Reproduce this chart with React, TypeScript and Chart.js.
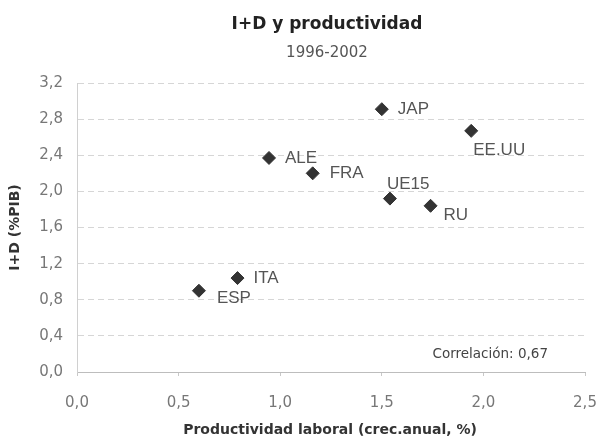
import { useEffect, useRef } from 'react';
import { Chart, registerables } from 'chart.js';

Chart.register(...registerables);

// Country codes with labour productivity growth (x) and R&D spending (y)
const countries = ['JAP', 'EE.UU', 'ALE', 'FRA', 'UE15', 'RU', 'ITA', 'ESP'];
const productivity = [1.5, 1.94, 0.945, 1.16, 1.54, 1.74, 0.79, 0.6];
const rdSpending = [2.91, 2.67, 2.37, 2.2, 1.92, 1.84, 1.04, 0.9];

const xTicks = [0, 0.5, 1.0, 1.5, 2.0, 2.5];
const yTicks = [0, 0.4, 0.8, 1.2, 1.6, 2.0, 2.4, 2.8, 3.2];

const chartTitle = 'I+D y productividad';
const chartSubtitle = '1996-2002';
const xTitle = 'Productividad laboral (crec.anual, %)';
const yTitle = 'I+D (%PIB)';
const correlationNote = 'Correlación: 0,67';

// Where each country's label sits relative to its marker (dx, dy, px)
const labelOffsets: Record<string, [number, number]> = {
  JAP: [16, 0],
  'EE.UU': [2, 19],
  ALE: [16, 0],
  FRA: [17, 0],
  UE15: [-3, -14],
  RU: [13, 9],
  ITA: [16, 0],
  ESP: [18, 8],
};

const fmt = (v: number) => v.toFixed(1).replace('.', ',');

const textPlugin = {
  id: 'textPlugin',
  afterDatasetsDraw(chart: any) {
    const { ctx } = chart;
    const meta = chart.getDatasetMeta(0);
    ctx.save();
    // point labels
    ctx.font = '17px "Liberation Sans", Arial, sans-serif';
    ctx.fillStyle = '#555';
    ctx.textAlign = 'left';
    ctx.textBaseline = 'middle';
    meta.data.forEach((pt: any, i: number) => {
      const name = countries[i];
      const [dx, dy] = labelOffsets[name] || [14, 0];
      ctx.fillText(name, pt.x + dx, pt.y + dy);
    });
    ctx.restore();
  },
  afterDraw(chart: any) {
    const { ctx, chartArea } = chart;
    const cx = (chartArea.left + chartArea.right) / 2;
    ctx.save();
    ctx.textAlign = 'center';
    ctx.textBaseline = 'middle';
    ctx.fillStyle = '#222';
    ctx.font = 'bold 17px "DejaVu Sans", Verdana, sans-serif';
    ctx.fillText(chartTitle, cx - 4, 25);
    ctx.fillStyle = '#555';
    ctx.font = '15px "DejaVu Sans", Verdana, sans-serif';
    ctx.fillText(chartSubtitle, cx - 4, 53);

    ctx.fillStyle = '#333';
    ctx.font = 'bold 14px "DejaVu Sans", Verdana, sans-serif';
    ctx.fillText(xTitle, cx - 1, 430);

    ctx.save();
    ctx.translate(15, (chartArea.top + chartArea.bottom) / 2);
    ctx.rotate(-Math.PI / 2);
    ctx.font = 'bold 14px "DejaVu Sans", Verdana, sans-serif';
    ctx.fillText(yTitle, 0, 0);
    ctx.restore();

    ctx.fillStyle = '#444';
    ctx.font = '13.5px "DejaVu Sans", Verdana, sans-serif';
    ctx.textAlign = 'right';
    ctx.fillText(correlationNote, chartArea.right - 37, 354);
    ctx.restore();
  },
};

export default function App() {
  const canvasRef = useRef<HTMLCanvasElement | null>(null);

  useEffect(() => {
    if (!canvasRef.current) return;
    const chart = new Chart(canvasRef.current, {
      type: 'scatter',
      data: {
        datasets: [
          {
            label: 'I+D',
            data: countries.map((_, i) => ({ x: productivity[i], y: rdSpending[i] })),
            backgroundColor: '#333',
            borderColor: '#333',
            pointStyle: 'rectRot',
            pointRadius: 6.5,
            pointHoverRadius: 6.5,
          },
        ],
      },
      options: {
        animation: false,
        responsive: true,
        maintainAspectRatio: false,
        layout: { padding: { top: 83, right: 20, left: 0, bottom: 0 } },
        plugins: {
          legend: { display: false },
          tooltip: { enabled: false },
          title: { display: false },
        },
        scales: {
          x: {
            type: 'linear',
            min: xTicks[0],
            max: xTicks[xTicks.length - 1],
            afterBuildTicks: (s: any) => {
              s.ticks = xTicks.map((v) => ({ value: v }));
            },
            afterFit: (s: any) => {
              s.height = 70;
              s.paddingLeft = 0;
              s.paddingRight = 0;
            },
            grid: {
              drawOnChartArea: false,
              drawTicks: true,
              tickLength: 4,
              color: '#c8c8c8',
            },
            border: { display: true, color: '#bdbdbd', width: 1 },
            ticks: {
              padding: 18,
              color: '#777',
              font: { family: '"DejaVu Sans", Verdana, sans-serif', size: 15 },
              callback: (v: any) => fmt(Number(v)),
            },
          },
          y: {
            type: 'linear',
            min: yTicks[0],
            max: yTicks[yTicks.length - 1],
            afterBuildTicks: (s: any) => {
              s.ticks = yTicks.map((v) => ({ value: v }));
            },
            afterFit: (s: any) => {
              s.width = 77;
              s.paddingTop = 0;
              s.paddingBottom = 0;
            },
            grid: {
              drawTicks: false,
              color: '#d6d6d6',
              lineWidth: 1,
            },
            border: { display: true, color: '#d0d0d0', width: 1, dash: [6, 4] },
            ticks: {
              padding: 14,
              color: '#777',
              font: { family: '"DejaVu Sans", Verdana, sans-serif', size: 15 },
              callback: (v: any) => fmt(Number(v)),
            },
          },
        },
      },
      plugins: [textPlugin],
    });
    return () => chart.destroy();
  }, []);

  return (
    <div style={{ position: 'absolute', left: 0, top: 0, width: 605, height: 442, background: '#fff' }}>
      <canvas ref={canvasRef} />
    </div>
  );
}
